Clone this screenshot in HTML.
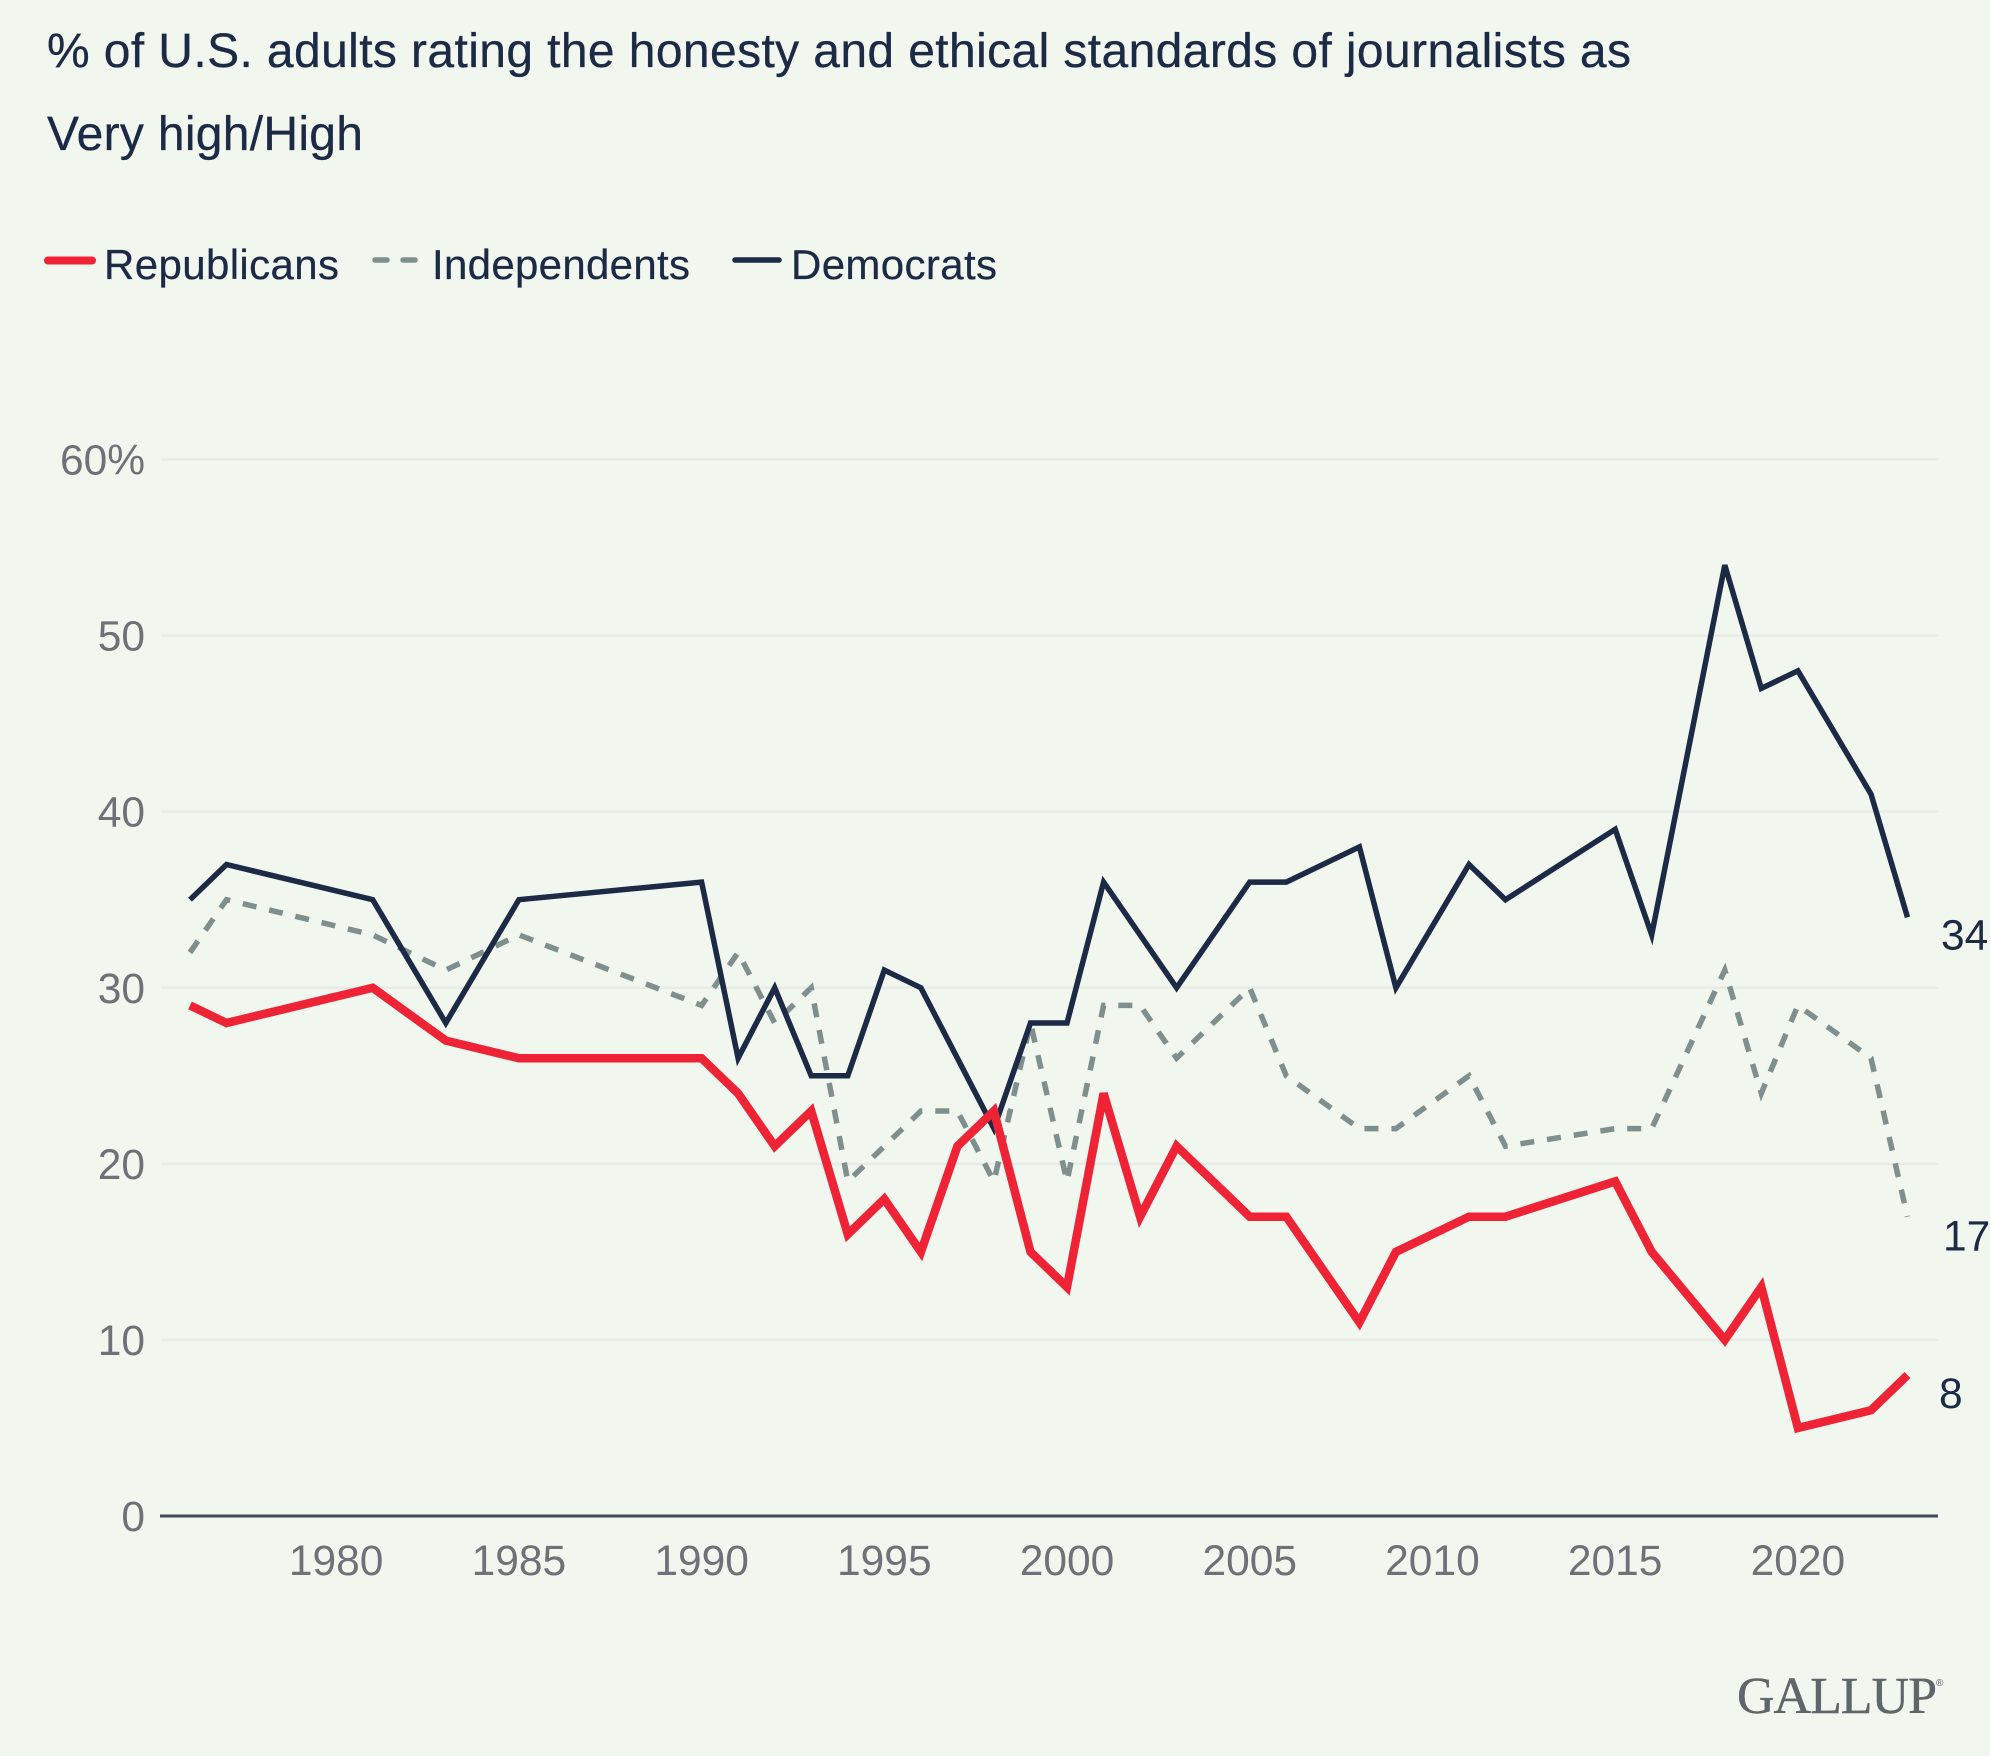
<!DOCTYPE html>
<html lang="en">
<head>
<meta charset="utf-8">
<title>Honesty and ethical standards of journalists</title>
<style>
html,body{margin:0;padding:0;background:#f1f6ef;}
#chart{display:block;width:1990px;height:1756px;font-family:"Liberation Sans",Arial,sans-serif;}
.title{font-size:48px;fill:#1c2a45;stroke:#1c2a45;stroke-width:0.3px;}
.legend-text{font-size:42px;fill:#1c2a45;stroke:#1c2a45;stroke-width:0.25px;}
.tick{font-size:42.5px;fill:#6c7276;}
.end{font-size:42.5px;fill:#1c2a45;}
</style>
</head>
<body>
<svg id="chart" xmlns="http://www.w3.org/2000/svg" width="1990" height="1756" viewBox="0 0 1990 1756">
  <rect x="0" y="0" width="1990" height="1756" fill="#f1f6ef"/>
  <text class="title" x="47" y="67" textLength="1584" lengthAdjust="spacing">% of U.S. adults rating the honesty and ethical standards of journalists as</text>
  <text class="title" x="47" y="150" textLength="316" lengthAdjust="spacing">Very high/High</text>

  <g>
    <line x1="48" y1="260.5" x2="92" y2="260.5" stroke="#ee2436" stroke-width="8" stroke-linecap="round"/>
    <text class="legend-text" x="104" y="279" textLength="235" lengthAdjust="spacing">Republicans</text>
    <line x1="375" y1="260" x2="415" y2="260" stroke="#7f8f8e" stroke-width="5.5" stroke-linecap="round" stroke-dasharray="12 16"/>
    <text class="legend-text" x="432" y="279" textLength="258" lengthAdjust="spacing">Independents</text>
    <line x1="735" y1="260" x2="779" y2="260" stroke="#1c2a45" stroke-width="5.5" stroke-linecap="round"/>
    <text class="legend-text" x="791" y="279" textLength="206" lengthAdjust="spacing">Democrats</text>
  </g>

  <g id="grid"></g>
  <g id="yticks"></g>
  <g id="xticks"></g>
  <line x1="160" y1="1516" x2="1938" y2="1516" stroke="#3f4a5c" stroke-width="3"/>
  <g id="series"></g>
  <g id="ends"></g>

  <text x="1737" y="1713" font-family="'Liberation Serif',serif" font-size="52" fill="#5f666a" stroke="#5f666a" stroke-width="0.4" textLength="200" lengthAdjust="spacing">GALLUP</text>
  <text x="1936" y="1686" font-family="'Liberation Sans',sans-serif" font-size="10" fill="#5f666a">®</text>
</svg>
<script>
var years = [1976,1977,1981,1983,1985,1990,1991,1992,1993,1994,1995,1996,1997,1998,1999,2000,2001,2002,2003,2005,2006,2008,2009,2011,2012,2015,2016,2018,2019,2020,2022,2023];
var republicans = [29,28,30,27,26,26,24,21,23,16,18,15,21,23,15,13,24,17,21,17,17,11,15,17,17,19,15,10,13,5,6,8];
var independents = [32,35,33,31,33,29,32,28,30,19,21,23,23,19,28,19,29,29,26,30,25,22,22,25,21,22,22,31,24,29,26,17];
var democrats = [35,37,35,28,35,36,26,30,25,25,31,30,26,22,28,28,36,33,30,36,36,38,30,37,35,39,33,54,47,48,41,34];
var yTicks = [0,10,20,30,40,50,60];
var xTicks = [1980,1985,1990,1995,2000,2005,2010,2015,2020];

var NS = 'http://www.w3.org/2000/svg';
function xScale(year){ return 190 + (year - 1976) * (1907.5 - 190) / (2023 - 1976); }
function yScale(v){ return 1516 - v * (1516 - 459.5) / 60; }
function make(tag, parent){
  var el = document.createElementNS(NS, tag);
  parent.appendChild(el);
  return el;
}

var grid = document.getElementById('grid');
var yLabels = document.getElementById('yticks');
yTicks.forEach(function(t){
  if (t !== 0) {
    var g = make('line', grid);
    
    
    g.setAttribute('x1', 161);
    g.setAttribute('x2', 1938);
    g.setAttribute('y1', yScale(t));
    g.setAttribute('y2', yScale(t));
    g.setAttribute('stroke', '#e8ebe6');
    g.setAttribute('stroke-width', 2.5);
  }
  var l = make('text', yLabels);
  
  
  l.setAttribute('class', 'tick');
  l.setAttribute('x', 145);
  l.setAttribute('y', yScale(t) + 15);
  l.setAttribute('text-anchor', 'end');
  l.textContent = t === 60 ? t + '%' : String(t);
});

var xLabels = document.getElementById('xticks');
xTicks.forEach(function(t){
  var l = make('text', xLabels);
  
  
  l.setAttribute('class', 'tick');
  l.setAttribute('x', xScale(t));
  l.setAttribute('y', 1575);
  l.setAttribute('text-anchor', 'middle');
  l.textContent = String(t);
});

function pointsFor(values){
  return values.map(function(v, i){
    return xScale(years[i]).toFixed(1) + ',' + yScale(v).toFixed(1);
  }).join(' ');
}

var seriesGroup = document.getElementById('series');

var indLine = make('polyline', seriesGroup);


indLine.setAttribute('points', pointsFor(independents));
indLine.setAttribute('fill', 'none');
indLine.setAttribute('stroke', '#7f8f8e');
indLine.setAttribute('stroke-width', 5.5);
indLine.setAttribute('stroke-dasharray', '14 13');

var demLine = make('polyline', seriesGroup);


demLine.setAttribute('points', pointsFor(democrats));
demLine.setAttribute('fill', 'none');
demLine.setAttribute('stroke', '#1c2a45');
demLine.setAttribute('stroke-width', 5.5);
demLine.setAttribute('stroke-linejoin', 'miter');

var repLine = make('polyline', seriesGroup);


repLine.setAttribute('points', pointsFor(republicans));
repLine.setAttribute('fill', 'none');
repLine.setAttribute('stroke', '#ee2436');
repLine.setAttribute('stroke-width', 8.5);
repLine.setAttribute('stroke-linejoin', 'miter');

var ends = document.getElementById('ends');
var last = years.length - 1;

var demEnd = make('text', ends);


demEnd.setAttribute('class', 'end');
demEnd.setAttribute('x', 1941);
demEnd.setAttribute('y', yScale(democrats[last]) + 32);
demEnd.textContent = String(democrats[last]);

var indEnd = make('text', ends);


indEnd.setAttribute('class', 'end');
indEnd.setAttribute('x', 1943);
indEnd.setAttribute('y', yScale(independents[last]) + 34);
indEnd.textContent = String(independents[last]);

var repEnd = make('text', ends);


repEnd.setAttribute('class', 'end');
repEnd.setAttribute('x', 1939);
repEnd.setAttribute('y', yScale(republicans[last]) + 33);
repEnd.textContent = String(republicans[last]);
</script>
</body>
</html>
